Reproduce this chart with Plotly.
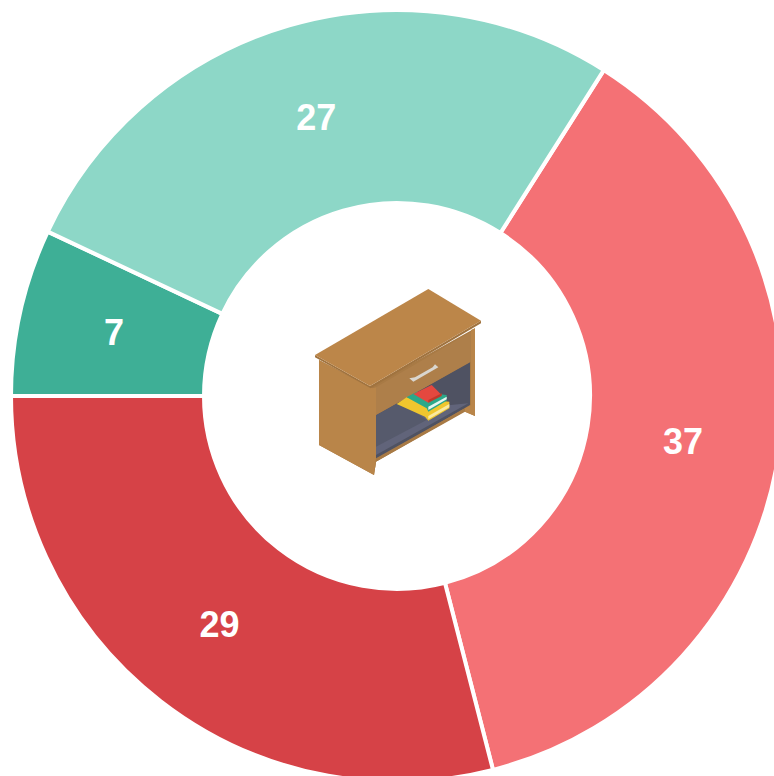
import math
import plotly.graph_objects as go

labels = ["A", "B", "C", "D"]
values = [37, 29, 7, 27]
colors = ["#F47175", "#D64247", "#3EAF96", "#8DD7C7"]
start_angle = 32.4

L, T = 11, 10
W, H = L + 772, T + 772
CX, CY = 397, 396
LABEL_R = 290

fig = go.Figure(go.Pie(
    labels=labels, values=values, sort=False, direction="clockwise", rotation=start_angle,
    hole=0.5, marker=dict(colors=colors, line=dict(color="#ffffff", width=4)),
    textinfo="value", textposition=["inside", "inside", "none", "inside"],
    insidetextorientation="horizontal",
    textfont=dict(family="Liberation Sans", size=36, color="#ffffff", weight="bold"),
    showlegend=False, hoverinfo="skip",
))

# Decorative cabinet icon (outlined in a 3x zoom frame of the reference, origin 300,280)
icon = [
    ("#A87A45", [(57,240),(210,320),(525,145),(525,408),(495,395),(228,545),(222,585),(57,495)]),
    ("#B98549", [(57,240),(218,325),(228,322),(228,545),(222,585),(57,495)]),
    ("#4F5262", [(228,405),(510,245),(510,375),(228,540)]),
    ("#61647A", [(228,430),(300,390),(505,370),(228,525)]),
    ("#565A6C", [(228,405),(300,365),(380,420),(228,500)]),
    ("#A87A45", [(222,585),(228,545),(495,392),(495,385),(228,535)]),
    ("#AE7F4A", [(228,322),(513,155),(513,245),(228,405)]),
    ("#B98549", [(513,150),(525,145),(525,408),(495,395),(495,385),(513,375)]),
    ("#A0733F", [(45,225),(210,318),(543,122),(543,130),(212,325),(45,232)]),
    ("#BC8649", [(45,225),(385,27),(543,122),(210,318)]),
    ("#F0C62E", [(290,372),(320,352),(448,365),(448,385),(385,422),(375,410)]),
    ("#FBE9A0", [(385,408),(448,372),(448,382),(385,418)]),
    ("#2BA88A", [(320,352),(350,335),(440,345),(440,362),(385,395),(380,385)]),
    ("#E8F5EF", [(385,380),(440,350),(440,358),(385,390)]),
    ("#E4483F", [(340,342),(395,315),(425,345),(385,368)]),
    ("#C0392B", [(385,360),(425,340),(425,348),(385,368)]),
]
handle = [(328,295),(340,305),(415,262),(405,253),(398,262),(345,292)]


def to_path(points):
    parts = []
    for i, (zx, zy) in enumerate(points):
        px = (300 + zx / 3 - L) / (W - L)
        py = 1 - (280 + zy / 3 - T) / (H - T)
        parts.append(f"{'M' if i == 0 else 'L'}{px:.5f},{py:.5f}")
    return " ".join(parts) + " Z"


shapes = [
    dict(type="path", xref="paper", yref="paper", path=to_path(p), fillcolor=c,
         line=dict(width=0), layer="above")
    for c, p in icon
]
shapes.append(dict(type="path", xref="paper", yref="paper", path=to_path(handle),
                   fillcolor="#D9D6CF", line=dict(width=0), layer="above"))

# Plotly pushes the narrow slice's label outward, so place it at the ring's mid radius
mid = start_angle + 360 * (sum(values[:2]) + values[2] / 2) / sum(values)
lx = CX + LABEL_R * math.sin(math.radians(mid))
ly = CY - LABEL_R * math.cos(math.radians(mid))

fig.update_layout(
    width=W, height=H, autosize=False,
    margin=dict(l=L, r=0, t=T, b=0, pad=0),
    paper_bgcolor="#ffffff",
    shapes=shapes,
    annotations=[dict(
        text=str(values[2]), showarrow=False, xref="paper", yref="paper",
        x=(lx - L) / (W - L), y=1 - (ly - T) / (H - T), xanchor="center", yanchor="middle",
        font=dict(family="Liberation Sans", size=36, color="#ffffff", weight="bold"),
    )],
)
fig.write_html(
    "out.html",
    config={"displayModeBar": False},
    post_script="document.documentElement.style.overflow='hidden';document.body.style.margin='0';document.body.style.overflow='hidden';",
)
